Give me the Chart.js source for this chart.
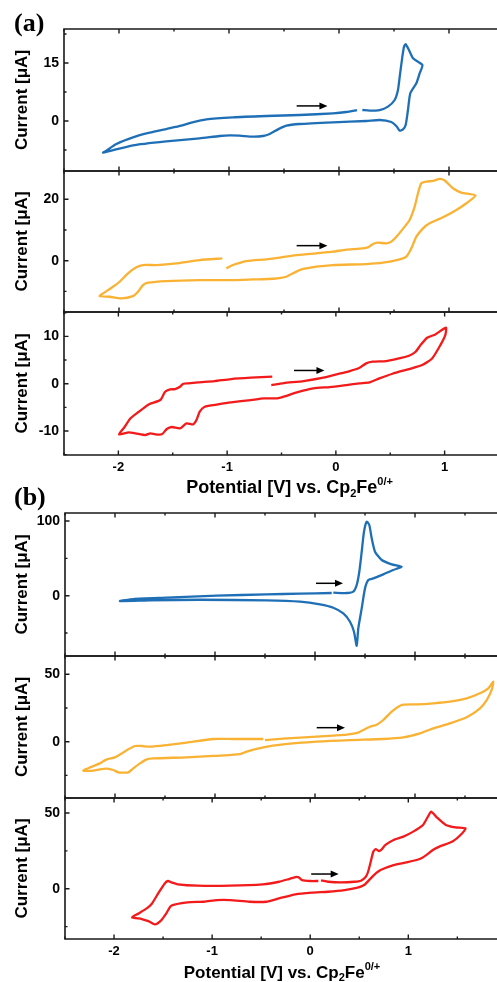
<!DOCTYPE html>
<html>
<head>
<meta charset="utf-8">
<script src="https://cdn.jsdelivr.net/npm/chart.js@4.4.0/dist/chart.umd.min.js"></script>
<style>
  html, body { margin: 0; padding: 0; background: #fff; }
  body { width: 497px; height: 982px; overflow: hidden; position: relative; }
  canvas { position: absolute; left: 0; }
</style>
</head>
<body>
<canvas id="a1"></canvas>
<canvas id="a2"></canvas>
<canvas id="a3"></canvas>
<canvas id="b1"></canvas>
<canvas id="b2"></canvas>
<canvas id="b3"></canvas>
<script>
// ---- data: potential [V] and current [uA], in scan order ----
const a1Potential = [0.212,0.279,0.370,0.445,0.506,0.536,0.552,0.576,0.591,0.606,0.636,0.673,0.758,0.733,0.703,0.648,0.627,0.606,0.582,0.552,0.521,0.476,0.370,0.248,-0.055,-0.358,-0.479,-0.555,-0.630,-0.691,-0.782,-0.903,-0.994,-1.085,-1.267,-1.570,-1.873,-2.145,-2.115,-2.024,-1.873,-1.721,-1.570,-1.433,-1.342,-1.206,-0.964,-0.661,-0.358,-0.055,0.067,0.164];
const a1Current = [2.84,2.67,2.84,3.71,5.43,8.02,11.47,16.64,19.22,19.83,18.36,16.21,14.48,12.33,9.74,7.16,2.84,-1.03,-2.16,-2.50,-1.29,-0.26,0.26,0,-0.34,-0.78,-1.21,-2.16,-3.36,-3.88,-4.05,-3.79,-3.71,-3.88,-4.48,-5.26,-6.29,-8.19,-7.67,-5.95,-4.22,-3.02,-2.07,-1.21,-0.43,0.43,0.95,1.29,1.55,1.98,2.33,2.84];

const a2Potential = [-1.024,-0.964,-0.842,-0.661,-0.539,-0.448,-0.206,-0.055,0.067,0.188,0.264,0.309,0.355,0.430,0.476,0.536,0.597,0.642,0.688,0.718,0.748,0.794,0.855,0.915,0.961,1.036,1.112,1.242,1.158,1.067,0.945,0.824,0.764,0.703,0.658,0.612,0.552,0.400,0.248,-0.055,-0.206,-0.358,-0.479,-0.600,-0.782,-0.964,-1.267,-1.570,-1.736,-1.782,-1.827,-1.873,-1.979,-2.085,-2.176,-2.145,-2.055,-1.994,-1.918,-1.842,-1.782,-1.661,-1.479,-1.267,-1.061];
const a2Current = [-2.50,-1.41,-0.11,0.43,0.98,1.52,2.39,2.93,3.59,3.91,4.35,5.43,5.87,5.65,6.20,8.37,11.09,13.26,17.61,21.96,25.22,25.76,25.98,26.63,26.09,23.59,22.17,21.20,18.70,16.52,14.13,12.17,10.54,7.83,4.02,1.30,0.43,-0.65,-1.09,-1.41,-1.96,-3.04,-5.22,-5.87,-6.09,-6.30,-6.30,-6.63,-7.17,-7.93,-10.11,-11.52,-12.28,-11.74,-11.52,-10.65,-8.48,-6.85,-4.13,-2.17,-1.41,-1.41,-0.87,0.22,0.76];

const a3Potential = [-0.594,-0.479,-0.297,-0.115,0.006,0.127,0.218,0.279,0.339,0.461,0.552,0.673,0.733,0.779,0.839,0.915,1.012,1.006,0.961,0.885,0.794,0.673,0.521,0.400,0.309,0.218,0.097,-0.055,-0.206,-0.358,-0.479,-0.539,-0.661,-0.782,-0.964,-1.085,-1.206,-1.252,-1.282,-1.312,-1.373,-1.433,-1.509,-1.555,-1.600,-1.661,-1.706,-1.752,-1.842,-1.903,-1.994,-1.948,-1.888,-1.812,-1.721,-1.615,-1.570,-1.524,-1.479,-1.433,-1.403,-1.358,-1.267,-1.115,-0.964,-0.782,-0.585];
const a3Current = [-0.28,0.14,0.56,1.27,1.97,2.68,3.38,4.30,4.65,4.79,5.21,5.92,6.76,8.17,9.72,10.42,11.83,10.28,8.17,5.35,3.94,3.10,2.11,1.13,0.28,0.07,-0.28,-0.70,-0.99,-1.83,-2.75,-3.10,-3.10,-3.45,-3.94,-4.37,-4.86,-5.92,-7.68,-8.59,-8.38,-9.44,-9.15,-9.58,-10.70,-10.70,-10.49,-10.85,-10.49,-10.28,-10.70,-9.30,-7.32,-5.92,-4.37,-3.45,-1.69,-1.20,-1.13,-0.63,0,0.07,0.28,0.56,0.99,1.27,1.48];

const b1Potential = [0.183,0.317,0.383,0.417,0.443,0.467,0.490,0.517,0.543,0.567,0.600,0.667,0.767,0.867,0.783,0.683,0.583,0.533,0.500,0.467,0.433,0.417,0.390,0.350,0.283,0.183,0.050,-0.150,-0.483,-1.150,-1.650,-1.950,-1.817,-1.483,-0.983,-0.483,-0.150,0.167];
const b1Current = [4.0,3.6,5.4,14.3,32.1,58.9,85.7,99.1,94.6,76.8,58.9,47.8,42.0,38.8,34.4,28.6,23.2,21.0,9.8,-17.0,-43.8,-67.0,-48.2,-34.8,-23.7,-16.1,-11.6,-8.0,-6.3,-5.4,-6.3,-7.1,-4.5,-2.7,0,1.8,2.7,3.6];

const b2Potential = [-0.500,-0.317,0.017,0.183,0.317,0.433,0.483,0.550,0.617,0.683,0.767,0.833,0.883,1.017,1.183,1.350,1.517,1.650,1.733,1.783,1.767,1.717,1.650,1.517,1.350,1.183,1.050,0.883,0.683,0.350,0.017,-0.317,-0.517,-0.683,-0.750,-1.017,-1.283,-1.617,-1.683,-1.750,-1.817,-1.867,-1.917,-1.967,-2.017,-2.083,-2.150,-2.217,-2.317,-2.250,-2.150,-2.083,-2.000,-1.933,-1.867,-1.800,-1.733,-1.650,-1.483,-1.283,-1.017,-0.817,-0.517];
const b2Current = [1.2,2.2,3.7,4.5,5.2,6.7,8.7,11.1,12.6,16.1,22.3,26.0,27.5,27.7,28.5,29.7,32.2,35.9,39.6,44.6,38.4,30.9,24.8,18.1,13.6,9.9,6.2,3.2,2.0,1.2,0,-2.0,-4.2,-7.4,-9.2,-10.6,-11.6,-12.4,-13.1,-16.1,-19.8,-22.8,-23.0,-22.8,-21.0,-20.0,-20.5,-21.5,-21.5,-19.1,-16.1,-13.1,-11.6,-8.7,-5.7,-3.2,-3.2,-3.7,-2.5,-0.7,2.0,2.0,2.0];

const b3Potential = [0.110,0.183,0.317,0.450,0.517,0.567,0.590,0.617,0.643,0.667,0.700,0.723,0.767,0.850,0.950,1.050,1.150,1.200,1.233,1.283,1.383,1.483,1.583,1.550,1.450,1.317,1.250,1.183,1.117,0.983,0.850,0.717,0.650,0.600,0.550,0.483,0.350,0.183,0.017,-0.150,-0.317,-0.450,-0.617,-0.817,-0.950,-1.083,-1.250,-1.417,-1.467,-1.517,-1.583,-1.650,-1.717,-1.817,-1.750,-1.667,-1.617,-1.550,-1.483,-1.450,-1.417,-1.350,-1.150,-0.817,-0.483,-0.317,-0.217,-0.150,-0.117,-0.083,0.000,0.083];
const b3Current = [5.5,4.6,4.2,4.6,5.3,7.9,11.2,17.8,24.4,26.2,24.9,25.6,28.9,32.2,34.4,37.7,42.1,47.6,50.9,47.6,42.1,40.5,39.9,36.6,31.1,27.8,25.6,22.2,19.6,17.4,15.6,12.3,9.0,5.7,2.4,0.7,-0.9,-2.0,-2.6,-3.7,-6.4,-8.6,-8.6,-7.5,-7.5,-8.6,-9.0,-11.2,-16.3,-20.7,-23.6,-21.4,-20.0,-18.9,-16.3,-13.0,-10.1,-3.1,3.5,5.1,4.2,2.9,2.0,2.0,2.9,4.6,6.4,7.7,7.5,5.7,5.1,5.1];

// scan-direction arrows: [from potential, to potential, current]
const a1Arrow = [-0.385, -0.105, 3.9];
const a2Arrow = [-0.385, -0.105, 4.9];
const a3Arrow = [-0.385, -0.105, 2.8];
const b1Arrow = [0.01, 0.28, 16.6];
const b2Arrow = [0.017, 0.30, 10.4];
const b3Arrow = [0.01, 0.29, 9.7];

const FONT = '"Liberation Sans", Arial, Helvetica, sans-serif';
const SERIF = '"Liberation Serif", "Times New Roman", serif';
const AXIS_COLOR = '#1a1a1a';
const BLUE = '#1f6fb6';
const ORANGE = '#f9b233';
const RED = '#f21a1a';

// layout of the two figure groups (px in the page)
const groups = {
  a: { xMin: -2.5, xMax: 1.5, left: 64, width: 504, label: '(a)', labelBaseline: 31, titleCenter: 289.5, titleBaseline: 493, titleSize: 18 },
  b: { xMin: -2.5, xMax: 2.0, left: 65, width: 515, label: '(b)', labelBaseline: 505, titleCenter: 282, titleBaseline: 977.5, titleSize: 17 }
};

const panels = [
  { id: 'a1', group: 'a', potential: a1Potential, current: a1Current, arrow: a1Arrow, color: BLUE,   yMin: -12.93, yMax: 23.79, yStep: 7.5, top: 29,  bottom: 171, canvasTop: 0,   first: true },
  { id: 'a2', group: 'a', potential: a2Potential, current: a2Current, arrow: a2Arrow, color: ORANGE, yMin: -16.7,  yMax: 29.2,  yStep: 10,  top: 171, bottom: 312, canvasTop: 147 },
  { id: 'a3', group: 'a', potential: a3Potential, current: a3Current, arrow: a3Arrow, color: RED,    yMin: -15.07, yMax: 15.16, yStep: 5,   top: 312, bottom: 455, canvasTop: 288, last: true },
  { id: 'b1', group: 'b', potential: b1Potential, current: b1Current, arrow: b1Arrow, color: BLUE,   yMin: -80.7,  yMax: 110.7, yStep: 50,  top: 513, bottom: 656, canvasTop: 480, first: true },
  { id: 'b2', group: 'b', potential: b2Potential, current: b2Current, arrow: b2Arrow, color: ORANGE, yMin: -41.8,  yMax: 63.6,  yStep: 25,  top: 656, bottom: 798, canvasTop: 632 },
  { id: 'b3', group: 'b', potential: b3Potential, current: b3Current, arrow: b3Arrow, color: RED,    yMin: -33.2,  yMax: 59.9,  yStep: 25,  top: 798, bottom: 939, canvasTop: 774, last: true }
];

const X_STEP = 0.5;
const AXIS_H = 45;
const PAD = 24;

function isMajor(v, step) {
  const r = v / (2 * step);
  return Math.abs(r - Math.round(r)) < 1e-6;
}

// x title with subscript / superscript
function drawPotentialTitle(ctx, cx, baseline, size) {
  const small = Math.round(size * 0.62);
  const parts = [
    { t: 'Potential [V] vs. Cp', s: size, dy: 0 },
    { t: '2', s: small, dy: size * 0.2 },
    { t: 'Fe', s: size, dy: 0 },
    { t: '0/+', s: small, dy: -size * 0.42 }
  ];
  let total = 0;
  parts.forEach(pt => { ctx.font = 'bold ' + pt.s + 'px ' + FONT; pt.w = ctx.measureText(pt.t).width; total += pt.w; });
  let x = cx - total / 2;
  ctx.textAlign = 'left';
  ctx.textBaseline = 'alphabetic';
  parts.forEach(pt => {
    ctx.font = 'bold ' + pt.s + 'px ' + FONT;
    ctx.fillText(pt.t, x, baseline + pt.dy);
    x += pt.w;
  });
}

function framePlugin(p, g) {
  return {
    id: 'frame' + p.id,
    afterDraw(chart) {
      const { ctx, chartArea: ca, scales: { x, y } } = chart;
      ctx.save();
      ctx.strokeStyle = AXIS_COLOR;
      ctx.lineWidth = 1.6;
      ctx.beginPath();
      ctx.moveTo(ca.left - 0.8, ca.top); ctx.lineTo(chart.width, ca.top);
      ctx.moveTo(ca.left - 0.8, ca.bottom); ctx.lineTo(chart.width, ca.bottom);
      ctx.moveTo(ca.left, ca.top); ctx.lineTo(ca.left, ca.bottom);
      ctx.stroke();

      ctx.lineWidth = 1.4;
      ctx.beginPath();
      for (let k = Math.ceil(g.xMin / X_STEP); k * X_STEP <= g.xMax + 1e-9; k++) {
        const px = x.getPixelForValue(k * X_STEP);
        const len = k % 2 === 0 ? 4.5 : 2.5;
        ctx.moveTo(px, ca.top); ctx.lineTo(px, ca.top + len);
        ctx.moveTo(px, ca.bottom); ctx.lineTo(px, ca.bottom - len);
      }
      for (let k = Math.ceil(p.yMin / p.yStep); k * p.yStep <= p.yMax; k++) {
        const py = y.getPixelForValue(k * p.yStep);
        const len = k % 2 === 0 ? 4.5 : 2.5;
        ctx.moveTo(ca.left, py); ctx.lineTo(ca.left + len, py);
      }
      ctx.stroke();

      // scan direction arrow
      const ax0 = x.getPixelForValue(p.arrow[0]);
      const ax1 = x.getPixelForValue(p.arrow[1]);
      const ay = y.getPixelForValue(p.arrow[2]);
      ctx.strokeStyle = '#000';
      ctx.fillStyle = '#000';
      ctx.lineWidth = 1.5;
      ctx.beginPath(); ctx.moveTo(ax0, ay); ctx.lineTo(ax1 - 6, ay); ctx.stroke();
      ctx.beginPath(); ctx.moveTo(ax1, ay); ctx.lineTo(ax1 - 8, ay - 3.5); ctx.lineTo(ax1 - 8, ay + 3.5); ctx.closePath(); ctx.fill();

      if (p.first) {
        ctx.font = 'bold 26px ' + SERIF;
        ctx.textAlign = 'left';
        ctx.textBaseline = 'alphabetic';
        ctx.fillText(g.label, 14, g.labelBaseline - p.canvasTop);
      }
      if (p.last) {
        drawPotentialTitle(ctx, g.titleCenter, g.titleBaseline - p.canvasTop, g.titleSize);
      }
      ctx.restore();
    }
  };
}

panels.forEach(p => {
  const g = groups[p.group];
  const padTop = p.top - p.canvasTop;
  const axisH = p.last ? AXIS_H : 0;
  const padBottom = p.last ? 0 : PAD;
  const h = padTop + (p.bottom - p.top) + axisH + padBottom;
  const cv = document.getElementById(p.id);
  cv.width = g.width;
  cv.height = h;
  cv.style.top = p.canvasTop + 'px';
  cv.style.width = g.width + 'px';
  cv.style.height = h + 'px';

  new Chart(cv, {
    type: 'line',
    data: {
      datasets: [{
        data: p.potential.map((v, i) => ({ x: v, y: p.current[i] })),
        borderColor: p.color,
        borderWidth: 2.3,
        pointRadius: 0,
        tension: 0.2,
        fill: false
      }]
    },
    options: {
      responsive: false,
      animation: false,
      events: [],
      layout: { padding: { top: padTop, bottom: padBottom, left: 0, right: 0 } },
      plugins: { legend: { display: false }, tooltip: { enabled: false } },
      scales: {
        x: {
          type: 'linear',
          min: g.xMin,
          max: g.xMax,
          display: !!p.last,
          grid: { display: false, drawTicks: false },
          border: { display: false },
          ticks: {
            stepSize: X_STEP,
            includeBounds: false,
            autoSkip: false,
            maxRotation: 0,
            padding: 5,
            color: '#000',
            font: { family: FONT, size: 13, weight: 'bold' },
            callback: v => Number.isInteger(v) ? String(v) : ''
          },
          afterFit: s => { s.height = axisH; }
        },
        y: {
          type: 'linear',
          min: p.yMin,
          max: p.yMax,
          grid: { display: false, drawTicks: false },
          border: { display: false },
          ticks: {
            stepSize: p.yStep,
            includeBounds: false,
            padding: 5,
            color: '#000',
            font: { family: FONT, size: 14, weight: 'bold' },
            callback: v => isMajor(v, p.yStep) ? String(v) : ''
          },
          title: {
            display: true,
            text: 'Current [μA]',
            color: '#000',
            font: { family: FONT, size: 17, weight: 'bold' },
            padding: { top: 12.5, bottom: 0 }
          },
          afterFit: s => { s.width = g.left; }
        }
      }
    },
    plugins: [framePlugin(p, g)]
  });
});
</script>
</body>
</html>
